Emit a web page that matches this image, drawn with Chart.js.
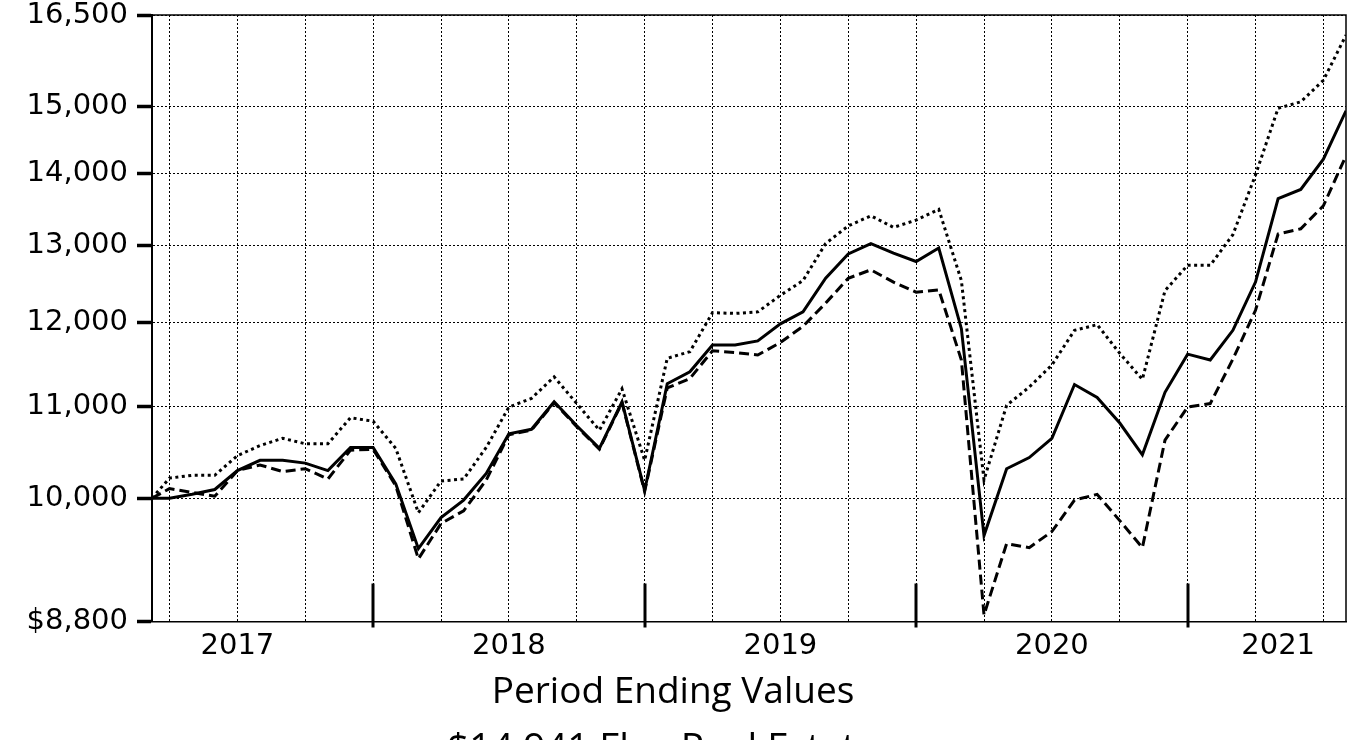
<!DOCTYPE html>
<html>
<head>
<meta charset="utf-8">
<script src="https://cdn.jsdelivr.net/npm/chart.js@4.4.1/dist/chart.umd.min.js"></script>
<style>
  html, body { margin: 0; padding: 0; background: #fff; overflow: hidden; }
  #wrap { width: 1363px; height: 800px; position: relative; }
</style>
</head>
<body>
<div id="wrap"><canvas id="growth"></canvas></div>
<script>
// inception date, then month ends
const periods = [
  '2017-03-07', '2017-03', '2017-04', '2017-05', '2017-06', '2017-07', '2017-08', '2017-09', '2017-10', '2017-11', '2017-12',
  '2018-01', '2018-02', '2018-03', '2018-04', '2018-05', '2018-06', '2018-07', '2018-08', '2018-09', '2018-10', '2018-11', '2018-12',
  '2019-01', '2019-02', '2019-03', '2019-04', '2019-05', '2019-06', '2019-07', '2019-08', '2019-09', '2019-10', '2019-11', '2019-12',
  '2020-01', '2020-02', '2020-03', '2020-04', '2020-05', '2020-06', '2020-07', '2020-08', '2020-09', '2020-10', '2020-11', '2020-12',
  '2021-01', '2021-02', '2021-03', '2021-04', '2021-05', '2021-06', '2021-07'
];

const flexRealEstate = [
  10000, 10000, 10040, 10090, 10290, 10400, 10400, 10370, 10290, 10540, 10540,
  10150, 9490, 9800, 9980, 10260, 10690, 10740, 11050, 10780, 10530, 11050, 10080,
  11260, 11400, 11720, 11720, 11770, 11980, 12130, 12560, 12880, 13020, 12890, 12780,
  12960, 11920, 9620, 10310, 10430, 10640, 11250, 11100, 10810, 10460, 11160, 11610,
  11540, 11900, 12510, 13640, 13770, 14210, 14941
];

const benchmarkDashed = [
  10000, 10100, 10060, 10020, 10290, 10350, 10280, 10310, 10200, 10510, 10520,
  10130, 9390, 9740, 9870, 10190, 10680, 10730, 11040, 10770, 10520, 11040, 10070,
  11210, 11320, 11650, 11630, 11600, 11750, 11950, 12240, 12560, 12670, 12510, 12380,
  12410, 11540, 8860, 9540, 9500, 9660, 9980, 10040, 9770, 9500, 10620, 10990,
  11030, 11550, 12150, 13150, 13220, 13540, 14260
];

const benchmarkDotted = [
  10000, 10210, 10240, 10240, 10450, 10560, 10640, 10580, 10580, 10870, 10830,
  10530, 9850, 10180, 10200, 10540, 10990, 11090, 11340, 11030, 10730, 11200, 10400,
  11560, 11640, 12120, 12110, 12130, 12340, 12530, 13020, 13260, 13400, 13240, 13340,
  13490, 12530, 10190, 11010, 11220, 11480, 11900, 11970, 11620, 11310, 12400, 12730,
  12730, 13140, 13980, 14980, 15080, 15420, 16160
];

const yTicks = [8800, 10000, 11000, 12000, 13000, 14000, 15000, 16500];
const yearLabels = ['2017', '2018', '2019', '2020', '2021'];
const yearLabelPeriods = ['2017-06', '2018-06', '2019-06', '2020-06', '2021-04'];
const yearEndPeriods = ['2017-12', '2018-12', '2019-12', '2020-12'];

// months counted from Dec 2016, month ends on whole numbers
function toMonth(p) {
  const [y, m, d] = p.split('-').map(Number);
  const base = (y - 2017) * 12 + m;
  return d ? base - 1 + d / 31 : base;
}

const xs = periods.map(toMonth);
const labelMonths = yearLabelPeriods.map(toMonth);
const yearEnds = yearEndPeriods.map(toMonth);
const quarterMonths = [];
for (let m = 3; m <= xs[xs.length - 1]; m += 3) quarterMonths.push(m);
const xTickMonths = [...new Set(quarterMonths.concat(labelMonths))].sort((a, b) => a - b);

const toPoints = (vals) => vals.map((v, i) => ({ x: xs[i], y: v }));
const fmt = (v) => v.toLocaleString('en-US');
const legendText = '$' + fmt(flexRealEstate[flexRealEstate.length - 1]) + ' Flex Real Estate';

const framePlugin = {
  id: 'frame',
  afterDatasetsDraw(chart) {
    const { ctx, chartArea: a, scales: { x } } = chart;
    ctx.save();
    ctx.strokeStyle = '#000';
    ctx.lineWidth = 1.5;
    ctx.beginPath();
    ctx.moveTo(a.left, a.top);
    ctx.lineTo(a.right, a.top);
    ctx.lineTo(a.right, a.bottom);
    ctx.stroke();
    // year boundary marks
    ctx.lineWidth = 3;
    yearEnds.forEach((m) => {
      const px = Math.round(x.getPixelForValue(m));
      ctx.beginPath();
      ctx.moveTo(px, a.bottom - 38);
      ctx.lineTo(px, a.bottom + 6);
      ctx.stroke();
    });
    ctx.restore();
  }
};

new Chart(document.getElementById('growth'), {
  type: 'line',
  data: {
    datasets: [
      {
        label: 'Flex Real Estate',
        data: toPoints(flexRealEstate),
        borderColor: '#000',
        borderWidth: 3,
      },
      {
        label: 'Benchmark (dashed)',
        data: toPoints(benchmarkDashed),
        borderColor: '#000',
        borderWidth: 3,
        borderDash: [10, 5],
      },
      {
        label: 'Benchmark (dotted)',
        data: toPoints(benchmarkDotted),
        borderColor: '#000',
        borderWidth: 3,
        borderDash: [3, 3.5],
      },
    ],
  },
  options: {
    responsive: true,
    maintainAspectRatio: false,
    animation: false,
    elements: { point: { radius: 0 }, line: { tension: 0, borderCapStyle: 'butt' } },
    layout: { padding: { top: 15, right: 17, left: 0, bottom: 20.5 } },
    scales: {
      x: {
        type: 'linear',
        min: xs[0],
        max: xs[xs.length - 1],
        afterBuildTicks: (s) => { s.ticks = xTickMonths.map((v) => ({ value: v })); },
        afterFit: (s) => { s.height = 40; },
        grid: {
          color: (c) => (c.tick && quarterMonths.indexOf(c.tick.value) < 0 ? 'rgba(0,0,0,0)' : '#000'),
          lineWidth: 1,
          drawTicks: false,
        },
        border: { color: '#000', width: 1.5, dash: [2, 2] },
        ticks: {
          autoSkip: false,
          maxRotation: 0,
          padding: 8,
          color: '#000',
          font: { family: 'DejaVu Sans', size: 29, lineHeight: 1.2 },
          callback: (v) => {
            const i = labelMonths.indexOf(v);
            return i < 0 ? '' : yearLabels[i];
          },
        },
      },
      y: {
        type: 'logarithmic',
        min: yTicks[0],
        max: yTicks[yTicks.length - 1],
        afterBuildTicks: (s) => { s.ticks = yTicks.map((v) => ({ value: v })); },
        afterFit: (s) => { s.width = 152; },
        grid: {
          color: '#000',
          lineWidth: 1,
          tickLength: 15,
          tickWidth: 3.5,
          tickColor: '#000',
          tickBorderDash: [],
        },
        border: { color: '#000', width: 2, dash: [2, 2] },
        ticks: {
          autoSkip: false,
          padding: 9,
          color: '#000',
          font: { family: 'DejaVu Sans', size: 29, lineHeight: 0.4 },
          callback: (v) => (v === yTicks[0] ? '$' : '') + fmt(v),
        },
      },
    },
    plugins: {
      tooltip: { enabled: false },
      title: {
        display: true,
        position: 'bottom',
        text: 'Period Ending Values',
        color: '#000',
        font: { family: 'Open Sans', size: 37, weight: 'normal', lineHeight: 1 },
        padding: { top: 12.5, bottom: 10 },
      },
      legend: {
        position: 'bottom',
        align: 'start',
        weight: 3000,
        labels: {
          color: '#000',
          font: { family: 'Open Sans', size: 38.5, lineHeight: 1 },
          boxWidth: 418,
          boxHeight: 3,
          padding: 10,
          generateLabels: () => [{
            text: legendText,
            fillStyle: '#000',
            strokeStyle: '#000',
            lineWidth: 0,
            datasetIndex: 0,
            hidden: false,
          }],
        },
      },
    },
  },
  plugins: [framePlugin],
});
</script>
</body>
</html>
